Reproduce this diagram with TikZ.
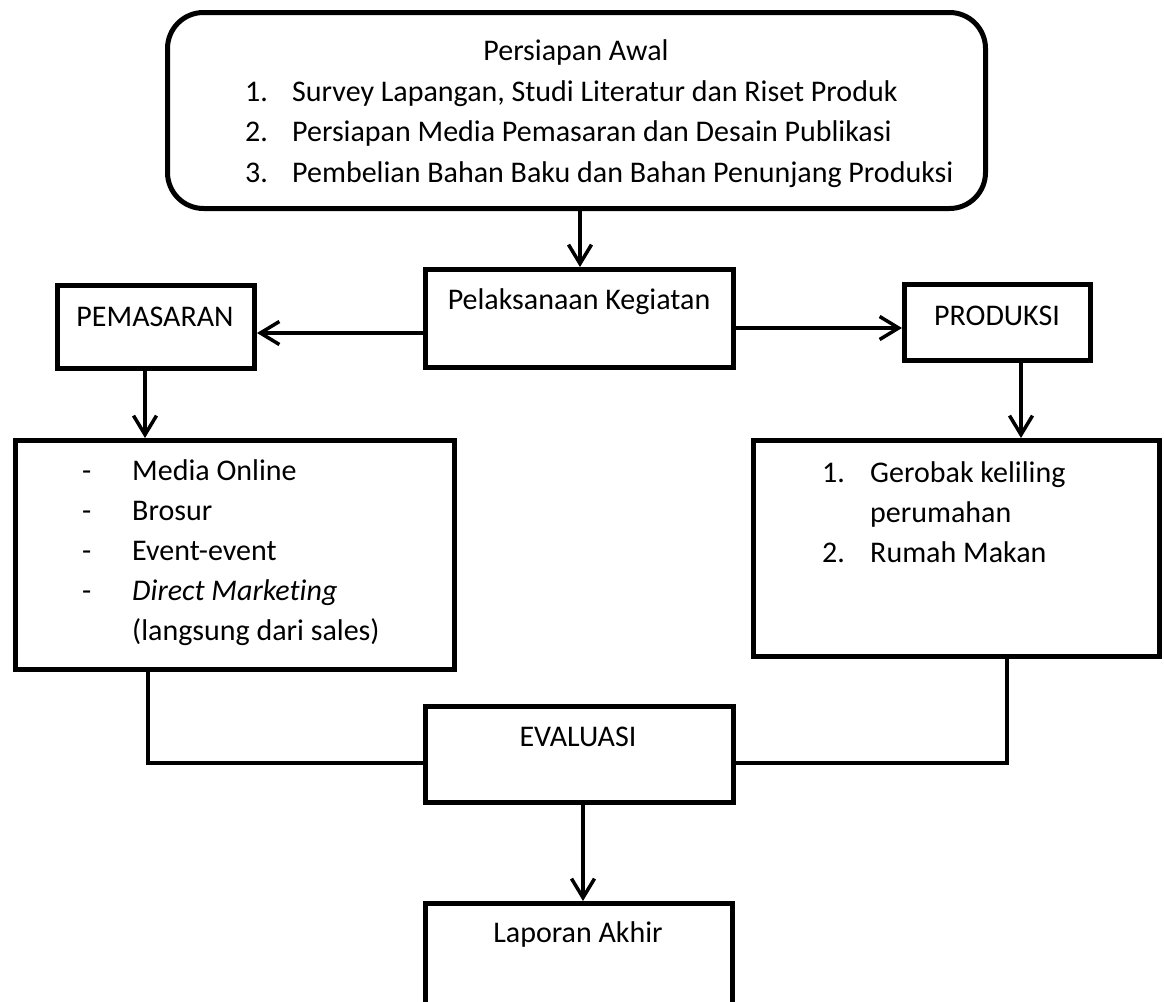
\documentclass[tikz,border=0pt]{standalone}
\usepackage{fontspec}
\setmainfont{Carlito}[Ligatures=NoCommon]
\usetikzlibrary{arrows.meta}
\begin{document}
\begin{tikzpicture}[x=1pt,y=-1pt,
  box/.style={draw=black,line width=5pt,fill=white,inner sep=0pt,minimum width=#1},
  conn/.style={draw=black,line width=3.5pt},
  arr/.style={conn,-{Straight Barb[length=19pt,width=23pt,sharp]}},
  txt/.style={inner sep=0pt,font=\fontsize{30}{40}\selectfont}
]
\fill[white] (0,0) rectangle (1164,1001);
\useasboundingbox (0,0) rectangle (1164,1001);

% boxes
\node[box=818pt,minimum height=196pt,rounded corners=36pt] (top) at (576.5,110.5) {};
\node[box=308pt,minimum height=98pt] (pel) at (579.5,318.5) {};
\node[box=197pt,minimum height=83pt] (pem) at (156,327) {};
\node[box=186pt,minimum height=76pt] (prod) at (997.5,322.5) {};
\node[box=439pt,minimum height=229pt] (lbox) at (235,555) {};
\node[box=406pt,minimum height=216pt] (rbox) at (956.5,548.5) {};
\node[box=308pt,minimum height=96pt] (eval) at (579.5,754.5) {};
\node[box=307pt,minimum height=108.5pt] (lap) at (579,957.75) {};

% top box text
\node[txt,anchor=base] (t0) at (576,60) {Persiapan Awal};
\node[txt,anchor=base west] (n1) at (245,101) {1.};
\node[txt,anchor=base west] (t1) at (292,101) {Survey Lapangan, Studi Literatur dan Riset Produk};
\node[txt,anchor=base west] (n2) at (245,141.5) {2.};
\node[txt,anchor=base west] (t2) at (292,141.5) {Persiapan Media Pemasaran dan Desain Publikasi};
\node[txt,anchor=base west] (n3) at (245,182) {3.};
\node[txt,anchor=base west] (t3) at (292,182) {Pembelian Bahan Baku dan Bahan Penunjang Produksi};

% single labels
\node[txt,anchor=base] (tpel) at (579,309) {Pelaksanaan Kegiatan};
\node[txt,anchor=base] (tpem) at (155,326) {PEMASARAN};
\node[txt,anchor=base] (tprod) at (997,325) {PRODUKSI};
\node[txt,anchor=base] (teval) at (578,746) {EVALUASI};
\node[txt,anchor=base] (tlap) at (578,942) {Laporan Akhir};

% left list
\node[txt,anchor=base west] (d1) at (82,480) {-};
\node[txt,anchor=base west] (l1) at (132,480) {Media Online};
\node[txt,anchor=base west] (d2) at (82,520) {-};
\node[txt,anchor=base west] (l2) at (132,520) {Brosur};
\node[txt,anchor=base west] (d3) at (82,560) {-};
\node[txt,anchor=base west] (l3) at (132,560) {Event-event};
\node[txt,anchor=base west] (d4) at (82,600) {-};
\node[txt,anchor=base west] (l4) at (132,600) {\itshape Direct Marketing};
\node[txt,anchor=base west] (l5) at (132,640) {(langsung dari sales)};

% right list
\node[txt,anchor=base west] (r1n) at (822,482) {1.};
\node[txt,anchor=base west] (r1) at (870,482) {Gerobak keliling};
\node[txt,anchor=base west] (r1b) at (870,522) {perumahan};
\node[txt,anchor=base west] (r2n) at (822,562) {2.};
\node[txt,anchor=base west] (r2) at (870,562) {Rumah Makan};

% connectors
\draw[arr] (top.south -| 580,0) -- (pel.north -| 580,0);
\draw[arr] (pel.west |- 0,333) -- (pem.east |- 0,333);
\draw[arr] (pel.east |- 0,328) -- (prod.west |- 0,328);
\draw[arr] (pem.south -| 145,0) -- (lbox.north -| 145,0);
\draw[arr] (prod.south -| 1021,0) -- (rbox.north -| 1021,0);
\draw[conn] (lbox.south -| 148,0) |- (eval.west |- 0,763);
\draw[conn] (rbox.south -| 1007,0) |- (eval.east |- 0,763);
\draw[arr] (eval.south -| 583,0) -- (lap.north -| 583,0);
\end{tikzpicture}
\end{document}
